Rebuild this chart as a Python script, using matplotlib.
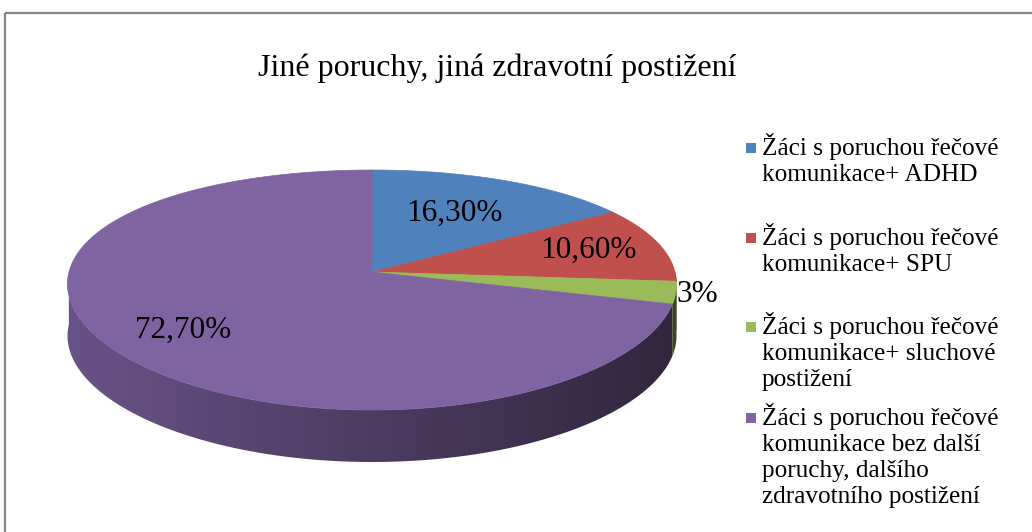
import numpy as np
import matplotlib.pyplot as plt
from matplotlib.colors import to_rgb
from matplotlib.patches import Polygon, Rectangle

title = "Jiné poruchy, jiná zdravotní postižení"
categories = [
    "Žáci s poruchou řečové\nkomunikace+ ADHD",
    "Žáci s poruchou řečové\nkomunikace+ SPU",
    "Žáci s poruchou řečové\nkomunikace+ sluchové\npostižení",
    "Žáci s poruchou řečové\nkomunikace bez další\nporuchy, dalšího\nzdravotního postižení",
]
values = [16.3, 10.6, 3.0, 72.7]
value_labels = ["16,30%", "10,60%", "3%", "72,70%"]
colors = ["#4F81BD", "#C0504D", "#9BBB59", "#8064A2"]

# layout of the fake 3d pie (pixels)
cx, cy = 372, 272
ra, rb = 303, 120
depth = 52
persp_y, persp_x = 0.15, 0.10
label_r = [0.6, 0.75, 1.07, 0.75]
legend_y = [155, 245, 334, 425]   # baseline of first line
line_h = 26


def proj(t, r=1.0):
    s = np.sin(t)
    x = cx + ra * r * np.cos(t) * (1 - persp_x * r * s)
    y = cy - rb * r * s * (1 - persp_y * r * s)
    return x, y


fig = plt.figure(figsize=(10.32, 5.32), dpi=100)
ax = fig.add_axes([0, 0, 1, 1])

# chart frame
ax.add_patch(Rectangle((5, 13), 1100, 600, fill=False, edgecolor='#858585', lw=1.6))

fracs = np.array(values) / sum(values)
starts = np.radians(90 - 360 * np.concatenate([[0], np.cumsum(fracs)[:-1]]))
ends = starts - np.radians(360 * fracs)

xl, xr = cx - ra, cx + ra
gx = np.linspace(xl - 5, xr + 5, 400)
shade = 0.82 - 0.44 * (gx - xl) / (xr - xl)

# side walls first (front half only), shaded left->right
for i in range(len(values)):
    t = np.linspace(starts[i], ends[i], 600)
    vis = np.sin(t) <= 0
    if not vis.any():
        continue
    t = t[vis]
    xs, ys = proj(t)
    pts = list(zip(xs, ys)) + list(zip(xs[::-1], ys[::-1] + depth))
    poly = Polygon(pts, closed=True, facecolor='none', edgecolor='none')
    ax.add_patch(poly)
    base = np.array(to_rgb(colors[i]))
    img = np.clip(shade[None, :, None] * base[None, None, :], 0, 1)
    im = ax.imshow(img, extent=(gx[0], gx[-1], cy + rb * 2 + depth, cy - 10),
                   aspect='auto', interpolation='bilinear', zorder=1)
    im.set_clip_path(poly)

ax.set_xlim(0, 1032)
ax.set_ylim(532, 0)
ax.axis('off')

# top faces
for i in range(len(values)):
    t = np.linspace(starts[i], ends[i], 300)
    xs, ys = proj(t)
    pts = [(cx, cy)] + list(zip(xs, ys))
    ax.add_patch(Polygon(pts, closed=True, facecolor=colors[i], edgecolor=colors[i],
                         lw=0.5, zorder=2))

# data labels
for i in range(len(values)):
    mid = (starts[i] + ends[i]) / 2
    lx, ly = proj(mid, label_r[i])
    ax.text(lx, ly, value_labels[i], ha='center', va='center', zorder=3,
            fontsize=22.5, family='Liberation Serif', color='black')

ax.text(497, 68, title, ha='center', va='center', fontsize=23, family='Liberation Serif')

# legend
for i in range(len(categories)):
    y0 = legend_y[i]
    ax.add_patch(Rectangle((746, y0 - 12), 10, 10, facecolor=colors[i], edgecolor='none'))
    for j, line in enumerate(categories[i].split('\n')):
        ax.text(762, y0 + j * line_h, line, ha='left', va='baseline',
                fontsize=18.2, family='Liberation Serif')

fig.savefig('out.png', dpi=100)
